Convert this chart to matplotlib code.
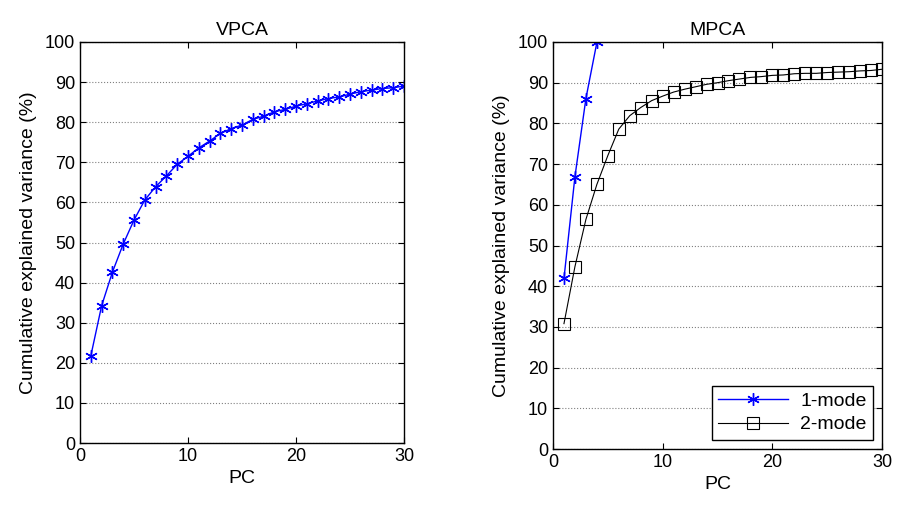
import matplotlib
matplotlib.use("Agg")
import matplotlib.pyplot as plt
import numpy as np

plt.rcParams['font.family'] = ['Liberation Sans', 'DejaVu Sans']

pc = list(range(1, 31))
vpca = [21.7, 34.2, 42.6, 49.6, 55.6, 60.6, 63.9, 66.6, 69.5, 71.5,
        73.6, 75.3, 77.2, 78.4, 79.3, 80.7, 81.5, 82.6, 83.2, 84.0,
        84.6, 85.3, 85.9, 86.3, 87.0, 87.6, 88.0, 88.4, 88.6, 89.0]
pc_mode1 = [1, 2, 3, 4]
mpca_mode1 = [41.9, 66.9, 86.1, 99.9]
mpca_mode2 = [30.8, 44.8, 56.4, 65.0, 72.1, 78.6, 81.9, 83.9, 85.6, 86.7,
              87.7, 88.4, 89.0, 89.6, 90.0, 90.5, 90.9, 91.3, 91.5, 91.8,
              91.9, 92.2, 92.3, 92.3, 92.5, 92.6, 92.7, 92.9, 93.0, 93.3]
titles = ['VPCA', 'MPCA']
legend_labels = ['1-mode', '2-mode']

W, H = 897, 512
fig = plt.figure(figsize=(W/100, H/100), dpi=100)
ax1 = fig.add_axes([80/W, (H-443)/H, (404-80)/W, 401/H])
ax2 = fig.add_axes([553/W, (H-449)/H, (882-553)/W, 407/H])

ax1.plot(pc, vpca, color='blue', marker=(6, 2, 0), markersize=9, lw=1, mew=1)
ax2.plot(pc_mode1, mpca_mode1, color='blue', marker=(6, 2, 0), markersize=9, lw=1, mew=1, label=legend_labels[0])
ax2.plot(pc, mpca_mode2, color='black', marker='s', markersize=9, mfc='none', lw=0.8, mew=0.8, label=legend_labels[1])

for ax, t in zip([ax1, ax2], titles):
    ax.set_xlim(0, 30)
    ax.set_ylim(0, 100)
    ax.set_xticks([0, 10, 20, 30])
    ax.set_yticks(range(0, 101, 10))
    ax.yaxis.grid(True, linestyle=':', color='#808080', lw=0.8)
    ax.set_axisbelow(True)
    ax.tick_params(direction='in', top=True, right=True, labelsize=13, length=4)
    ax.set_title(t, fontsize=14, pad=5)
    ax.set_xlabel('PC', fontsize=14, labelpad=4)
    ax.set_ylabel('Cumulative explained variance (%)', fontsize=14, labelpad=6)
    for s in ax.spines.values():
        s.set_linewidth(1)

leg = ax2.legend(loc='lower right', fontsize=14, fancybox=False, edgecolor='black',
                 framealpha=1, handlelength=3.6, borderaxespad=0.45, borderpad=0.35,
                 labelspacing=0.3, handletextpad=0.6)
leg.get_frame().set_linewidth(1)

fig.savefig('out.png', dpi=100)
